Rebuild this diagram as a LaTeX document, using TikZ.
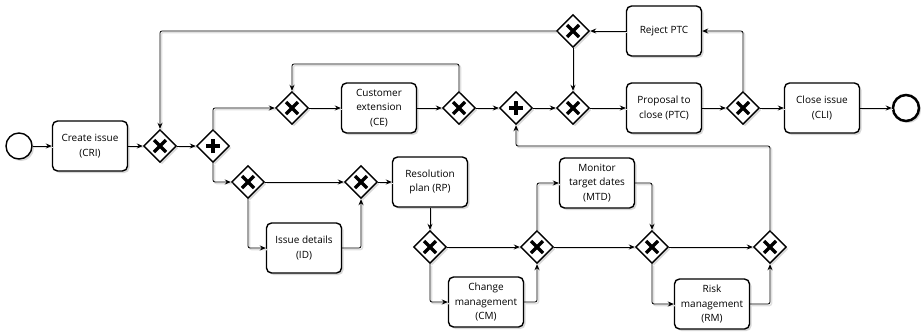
\documentclass[tikz,border=0pt]{standalone}
\usepackage{fontspec}
\setmainfont{Open Sans}
\usetikzlibrary{shapes.geometric,arrows.meta,shadows}

\begin{document}
\begin{tikzpicture}[x=1pt,y=-1pt,
	font=\fontsize{10}{14.5}\selectfont,
	shade/.style={drop shadow={shadow xshift=2pt,shadow yshift=-2pt,fill=black!30,opacity=.5}},
	task/.style={draw,line width=1.4pt,rounded corners=5pt,fill=white,minimum width=75pt,
		minimum height=50pt,align=center,inner sep=2pt,shade},
	gate/.style={diamond,draw,line width=1.4pt,fill=white,minimum size=33pt,inner sep=0pt,shade},
	xor/.style={gate,path picture={\draw[line width=3.5pt] (path picture bounding box.center)
		+(-6pt,-6pt) -- +(6pt,6pt) +(-6pt,6pt) -- +(6pt,-6pt);}},
	par/.style={gate,path picture={\draw[line width=3.5pt] (path picture bounding box.center)
		+(-7pt,0pt) -- +(7pt,0pt) +(0pt,-7pt) -- +(0pt,7pt);}},
	event/.style={circle,draw,line width=1.4pt,fill=white,minimum size=26pt,inner sep=0pt,shade},
	flow/.style={line width=.8pt,rounded corners=2pt,-{Stealth[length=6pt,width=5pt]},
		preaction={draw=black!12,line width=1.5pt,-,transform canvas={shift={(1.5pt,-1.5pt)}}}}]
\useasboundingbox (0,0) rectangle (921,333);

% main line
\node[event] (start) at (19,146) {};
\node[task] (cri) at (90,146) {Create issue\\(CRI)};
\node[xor] (g1) at (160,146) {};
\node[par] (p1) at (213,146) {};
\node[xor] (g2) at (292,108) {};
\node[task] (ce) at (379,108) {Customer\\extension\\(CE)};
\node[xor] (g3) at (459,108) {};
\node[par] (p2) at (516,108) {};
\node[xor] (g4) at (573,108) {};
\node[task] (ptc) at (664,108) {Proposal to\\close (PTC)};
\node[xor] (g5) at (743,108) {};
\node[task] (cli) at (822,108) {Close issue\\(CLI)};
\node[event,line width=2.5pt] (end) at (906,108) {};
\node[task] (rej) at (664,31) {Reject PTC};
\node[xor] (gr) at (573,31) {};

% lower branch
\node[xor] (g6) at (248,182) {};
\node[xor] (g7) at (361,182) {};
\node[task] (id) at (304,248) {Issue details\\(ID)};
\node[task] (rp) at (430,182) {Resolution\\plan (RP)};
\node[xor] (g8) at (430,247) {};
\node[xor] (g9) at (537,247) {};
\node[task] (cm) at (486,302) {Change\\management\\(CM)};
\node[task] (mtd) at (597,183) {Monitor\\target dates\\(MTD)};
\node[xor] (g10) at (652,247) {};
\node[xor] (g11) at (770,247) {};
\node[task] (rm) at (712,304) {Risk\\management\\(RM)};

\draw[flow] (start) -- (cri);
\draw[flow] (cri) -- (g1);
\draw[flow] (g1) -- (p1);
\draw[flow] (p1.north) |- (g2.west);
\draw[flow] (g2) -- (ce);
\draw[flow] (ce) -- (g3);
\draw[flow] (g3.north) -- (g3.north |- 0,64) -| (g2.north);
\draw[flow] (g3) -- (p2);
\draw[flow] (p2) -- (g4);
\draw[flow] (g4) -- (ptc);
\draw[flow] (ptc) -- (g5);
\draw[flow] (g5) -- (cli);
\draw[flow] (cli) -- (end);
\draw[flow] (g5.north) |- (rej.east);
\draw[flow] (rej) -- (gr);
\draw[flow] (gr) -- (g4);
\draw[flow] (gr.west) -| (g1.north);

\draw[flow] (p1.south) |- (g6.west);
\draw[flow] (g6) -- (g7);
\draw[flow] (g6.south) |- (id.west);
\draw[flow] (id.east) -| (g7.south);
\draw[flow] (g7) -- (rp);
\draw[flow] (rp) -- (g8);
\draw[flow] (g8) -- (g9);
\draw[flow] (g8.south) |- (cm.west);
\draw[flow] (cm.east) -| (g9.south);
\draw[flow] (g9.north) |- (mtd.west);
\draw[flow] (mtd.east) -| (g10.north);
\draw[flow] (g9) -- (g10);
\draw[flow] (g10) -- (g11);
\draw[flow] (g10.south) |- (rm.west);
\draw[flow] (rm.east) -| (g11.south);
\draw[flow] (g11.north) -- (g11.north |- 0,146) -| (p2.south);
\end{tikzpicture}
\end{document}
